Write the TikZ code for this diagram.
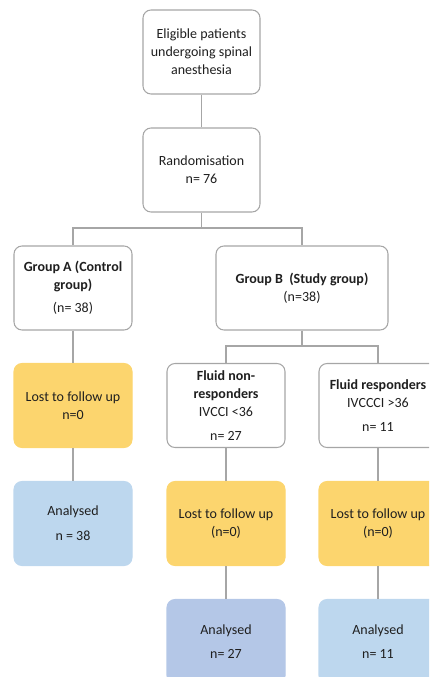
\documentclass[tikz,border=0pt]{standalone}
\usepackage{fontspec}
\setmainfont{Carlito}
\definecolor{edge}{HTML}{A6A6A6}
\definecolor{ytext}{HTML}{1F1F1F}
\definecolor{yel}{HTML}{FCD56E}
\definecolor{lblue}{HTML}{BDD7EE}
\definecolor{dblue}{HTML}{B4C7E7}
\tikzset{
  box/.style={draw=edge, line width=0.8pt, rounded corners=6pt, fill=white,
    minimum width=#1*0.75pt, minimum height=84*0.75pt, align=center,
    text=ytext, font=\fontsize{10.5}{13.5}\selectfont, inner sep=2pt},
  box/.default=118,
  lostbox/.style={box, draw=yel, fill=yel},
  abox/.style={box, draw=lblue, fill=lblue},
  dbox/.style={box, draw=dblue, fill=dblue},
  conn/.style={draw=edge, line width=0.8pt}
}
\begin{document}
\begin{tikzpicture}[x=0.75pt,y=-0.75pt]
\useasboundingbox (0,0) rectangle (429,677);
\clip (0,0) rectangle (429,677);
\node[box=117] (elig) at (201.5,52) {Eligible patients\\undergoing spinal\\anesthesia};
\node[box=117] (rand) at (201.5,170) {Randomisation\\n= 76};
\node[box] (gA) at (73,288) {\textbf{Group A (Control}\\\textbf{group)}\\[4pt](n= 38)};
\node[box=172] (gB) at (302,288) {\textbf{Group B\ \ (Study group)}\\(n=38)};
\node[box] (nr) at (226,405.5) {\textbf{Fluid non-}\\\textbf{responders}\\IVCCI <36\\[4pt]n= 27};
\node[box] (r) at (378,405.5) {\textbf{Fluid responders}\\IVCCCI >36\\[4pt]n= 11};
\node[lostbox] (lA) at (73,405.5) {Lost to follow up\\n=0};
\node[abox] (aA) at (73,523.5) {Analysed\\[5pt]n = 38};
\node[lostbox] (l1) at (226,523.5) {Lost to follow up\\(n=0)};
\node[lostbox] (l2) at (378,523.5) {Lost to follow up\\(n=0)};
\node[dbox] (a1) at (226,641.5) {Analysed\\[5pt]n= 27};
\node[abox] (a2) at (378,641.5) {Analysed\\[5pt]n= 11};
\coordinate (j1) at (201.5,228);
\coordinate (j2) at (302,346);
\draw[conn] (elig) -- (rand);
\draw[conn] (rand.south) -- (j1);
\draw[conn] (j1) -| (gA.north);
\draw[conn] (j1) -| (gB.north);
\draw[conn] (gB.south) -- (j2);
\draw[conn] (j2) -| (nr.north);
\draw[conn] (j2) -| (r.north);
\draw[conn] (gA) -- (lA);
\draw[conn] (lA) -- (aA);
\draw[conn] (nr) -- (l1);
\draw[conn] (l1) -- (a1);
\draw[conn] (r) -- (l2);
\draw[conn] (l2) -- (a2);
\end{tikzpicture}
\end{document}
